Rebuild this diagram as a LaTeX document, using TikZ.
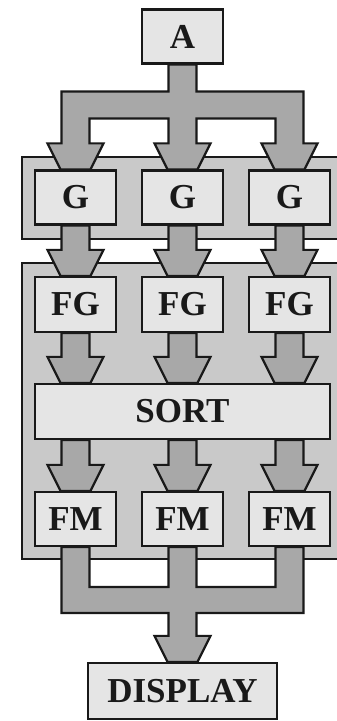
\documentclass[tikz,border=0pt]{standalone}
\usepackage{fontspec}
\setmainfont{Liberation Serif}
\usetikzlibrary{calc,backgrounds}

\tikzset{
  boite/.style={draw=black!90,line width=2.2pt,fill=black!10,minimum width=81pt,
    minimum height=54pt,inner sep=0pt,text=black!90,
    font=\fontsize{35}{38}\selectfont\bfseries},
  bloc/.style={draw=black!90,line width=2.2pt,fill=black!21},
  flux/.style={draw=black!90,line width=2.2pt,fill=black!34,line join=miter},
}

% pointe d'une grosse flèche posée sur le point #1
\newcommand{\tete}[1]{-- ($(#1)+(-14pt,26pt)$) -- ($(#1)+(-28pt,26pt)$)
  -- ($(#1)+(-15pt,0)$) -- ($(#1)+(15pt,0)$) -- ($(#1)+(28pt,26pt)$)
  -- ($(#1)+(14pt,26pt)$)}
% grosse flèche verticale de #1 vers #2
\newcommand{\fleche}[2]{%
  \path #1 coordinate (dep) #2 coordinate (arr);
  \draw[flux] ($(dep)+(-14pt,0)$) \tete{arr} -- ($(dep)+(14pt,0)$) -- cycle;}

\begin{document}
\begin{tikzpicture}[x=1pt,y=1pt]
    \useasboundingbox (0,0) rectangle (337,721);

    % Entrée
    \node[boite] (a) at (182.5,684.5) {A};

    % Étage G
    \node[boite] (g1) at (75.5,523.5) {G};
    \node[boite] (g2) at (182.5,523.5) {G};
    \node[boite] (g3) at (289.5,523.5) {G};

    % Étage FG
    \node[boite,minimum height=55pt] (fg1) at (75.5,416.5) {FG};
    \node[boite,minimum height=55pt] (fg2) at (182.5,416.5) {FG};
    \node[boite,minimum height=55pt] (fg3) at (289.5,416.5) {FG};

    % Tri
    \node[boite,minimum width=295pt,minimum height=55pt] (sort) at (182.5,309.5) {SORT};

    % Étage FM
    \node[boite] (fm1) at (75.5,202) {FM};
    \node[boite] (fm2) at (182.5,202) {FM};
    \node[boite] (fm3) at (289.5,202) {FM};

    % Sortie
    \node[boite,minimum width=189pt,minimum height=56pt] (display) at (182.5,30) {DISPLAY};

    \begin{scope}[on background layer]
        \clip (0,0) rectangle (337,721);

        % Cadres gris
        \draw[bloc] (22,482) rectangle (345,564);
        \draw[bloc] (22,162) rectangle (345,458);

        % Répartition A -> G
        \path ($(a.south)+(0,-27pt)$) coordinate (hb)
              ($(a.south)+(0,-54pt)$) coordinate (bb);
        \draw[flux] ($(a.south)+(-14pt,0)$) -- ($(hb)+(-14pt,0)$)
            -- ($(g1.north |- hb)+(-14pt,0)$) \tete{g1.north}
            -- ($(g1.north |- bb)+(14pt,0)$) -- ($(g2.north |- bb)+(-14pt,0)$) \tete{g2.north}
            -- ($(g2.north |- bb)+(14pt,0)$) -- ($(g3.north |- bb)+(-14pt,0)$) \tete{g3.north}
            -- ($(g3.north |- hb)+(14pt,0)$) -- ($(hb)+(14pt,0)$)
            -- ($(a.south)+(14pt,0)$) -- cycle;

        % G -> FG
        \fleche{(g1.south)}{(fg1.north)}
        \fleche{(g2.south)}{(fg2.north)}
        \fleche{(g3.south)}{(fg3.north)}

        % FG -> SORT
        \fleche{(fg1.south)}{(fg1.south |- sort.north)}
        \fleche{(fg2.south)}{(fg2.south |- sort.north)}
        \fleche{(fg3.south)}{(fg3.south |- sort.north)}

        % SORT -> FM
        \fleche{(fm1.north |- sort.south)}{(fm1.north)}
        \fleche{(fm2.north |- sort.south)}{(fm2.north)}
        \fleche{(fm3.north |- sort.south)}{(fm3.north)}

        % Regroupement FM -> DISPLAY
        \path ($(fm1.south)+(0,-40pt)$) coordinate (hi)
              ($(fm1.south)+(0,-66pt)$) coordinate (lo);
        \draw[flux] ($(fm1.south)+(-14pt,0)$) -- ($(fm1.south |- lo)+(-14pt,0)$)
            -- ($(display.north |- lo)+(-14pt,0)$) \tete{display.north}
            -- ($(display.north |- lo)+(14pt,0)$) -- ($(fm3.south |- lo)+(14pt,0)$)
            -- ($(fm3.south)+(14pt,0)$) -- ($(fm3.south)+(-14pt,0)$)
            -- ($(fm3.south |- hi)+(-14pt,0)$) -- ($(fm2.south |- hi)+(14pt,0)$)
            -- ($(fm2.south)+(14pt,0)$) -- ($(fm2.south)+(-14pt,0)$)
            -- ($(fm2.south |- hi)+(-14pt,0)$) -- ($(fm1.south |- hi)+(14pt,0)$)
            -- ($(fm1.south)+(14pt,0)$) -- cycle;
    \end{scope}
\end{tikzpicture}
\end{document}
